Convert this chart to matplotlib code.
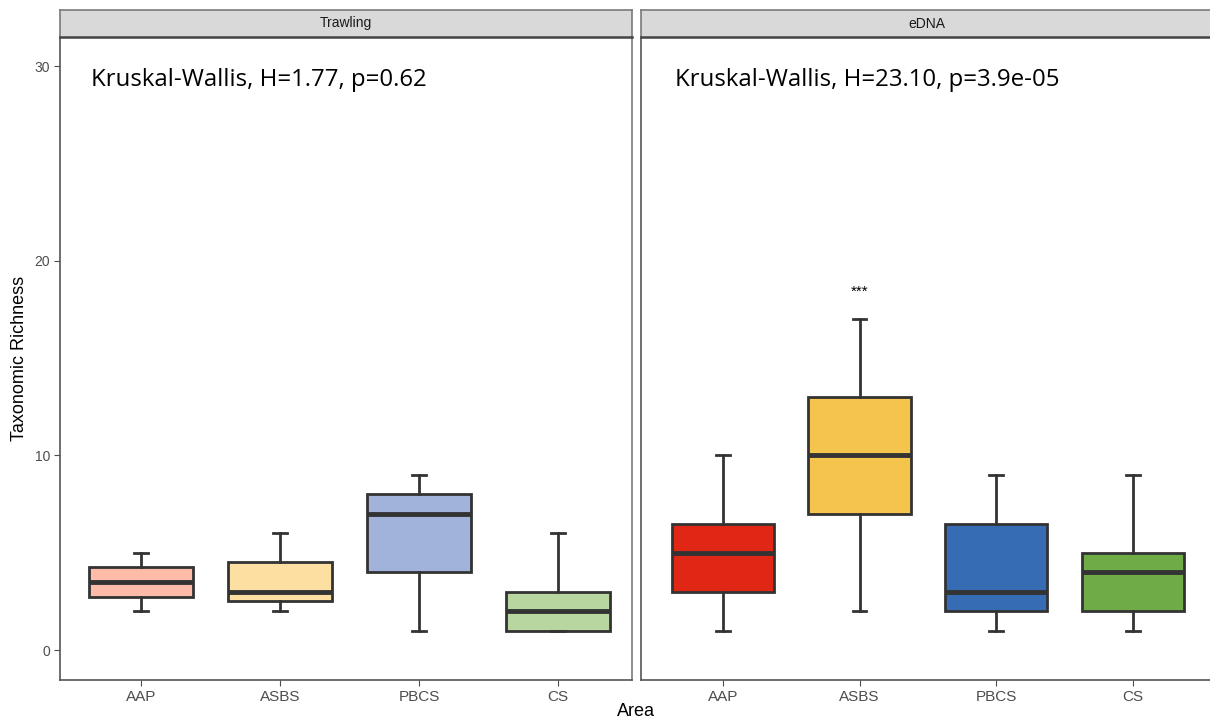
import matplotlib.pyplot as plt

plt.rcParams['font.family'] = ['Liberation Sans', 'DejaVu Sans']

# data (box stats per area)
areas = ["AAP", "ASBS", "PBCS", "CS"]
panels = ["Trawling", "eDNA"]

trawl_low = [2, 2, 1, 1]
trawl_q1 = [2.75, 2.5, 4, 1]
trawl_med = [3.5, 3, 7, 2]
trawl_q3 = [4.25, 4.5, 8, 3]
trawl_high = [5, 6, 9, 6]

edna_low = [1, 2, 1, 1]
edna_q1 = [3, 7, 2, 2]
edna_med = [5, 10, 3, 4]
edna_q3 = [6.5, 13, 6.5, 5]
edna_high = [10, 17, 9, 9]

trawl_colors = ["#FDBBA8", "#FEDFA2", "#A1B3DB", "#B8D6A0"]
edna_colors = ["#E02716", "#F4C44C", "#366CB3", "#6FAC47"]

kw_labels = ["Kruskal-Wallis, H=1.77, p=0.62", "Kruskal-Wallis, H=23.10, p=3.9e-05"]
signif_label = "***"
signif_area = "ASBS"
signif_y = 18.4


def make_stats(low, q1, med, q3, high):
    return [dict(whislo=a, q1=b, med=c, q3=d, whishi=e, fliers=[])
            for a, b, c, d, e in zip(low, q1, med, q3, high)]


fig = plt.figure(figsize=(12.1, 7.22), dpi=100)

W, H = 1210, 722
panel_px = [(60, 632), (641, 1212)]
xlims = [(0.42, 4.53), (0.4, 4.58)]
text_x = [0.055, 0.059]
stats_all = [make_stats(trawl_low, trawl_q1, trawl_med, trawl_q3, trawl_high),
             make_stats(edna_low, edna_q1, edna_med, edna_q3, edna_high)]
colors_all = [trawl_colors, edna_colors]
edge = "#333333"

for i, (x0, x1) in enumerate(panel_px):
    ax = fig.add_axes([x0 / W, 1 - 680 / H, (x1 - x0) / W, 643 / H])
    bp = ax.bxp(stats_all[i], positions=range(1, len(areas) + 1), widths=0.75,
                patch_artist=True, showfliers=False, capwidths=0.1,
                boxprops=dict(edgecolor=edge, linewidth=2.0),
                medianprops=dict(color=edge, linewidth=3.5, solid_capstyle="butt"),
                whiskerprops=dict(color=edge, linewidth=2.0),
                capprops=dict(color=edge, linewidth=2.0))
    for patch, c in zip(bp["boxes"], colors_all[i]):
        patch.set_facecolor(c)
        patch.set_zorder(2)

    ax.set_xlim(*xlims[i])
    ax.set_ylim(-1.54, 31.5)
    ax.set_xticks(range(1, len(areas) + 1))
    ax.set_xticklabels(areas, fontsize=11, color="#4d4d4d")
    ax.set_yticks([0, 10, 20, 30])
    if i == 0:
        ax.set_yticklabels(["0", "10", "20", "30"], fontsize=10, color="#4d4d4d")
    else:
        ax.tick_params(axis="y", left=False, labelleft=False)
    ax.tick_params(axis="both", length=4, width=0.8, color="#4d4d4d", pad=3)
    for s in ax.spines.values():
        s.set_color("#7a7a7a")
        s.set_linewidth(1.2)
    ax.spines["bottom"].set_color("#555555")
    ax.spines["left"].set_color("#555555")

    ax.text(text_x[i], 0.933, kw_labels[i], transform=ax.transAxes, fontsize=17.3,
            family=["Open Sans", "DejaVu Sans"], ha="left", va="center", color="black")
    if i == 1:
        ax.text(areas.index(signif_area) + 1, signif_y, signif_label, ha="center",
                va="center", fontsize=11, color="black")

    # facet strip
    sax = fig.add_axes([x0 / W, 1 - 37 / H, (x1 - x0) / W, 27 / H])
    sax.set_facecolor("#d9d9d9")
    sax.set_xticks([])
    sax.set_yticks([])
    for s in sax.spines.values():
        s.set_color("#7a7a7a")
        s.set_linewidth(1.2)
    sax.spines["bottom"].set_color("#444444")
    sax.spines["bottom"].set_linewidth(1.8)
    sax.text(0.5, 0.5, panels[i], ha="center", va="center", fontsize=10, color="#1a1a1a",
             transform=sax.transAxes)

fig.text(20 / W, 1 - 358 / H, "Taxonomic Richness", rotation=90, ha="center", va="center",
         fontsize=13, color="black")
fig.text(636 / W, 1 - 712 / H, "Area", ha="center", va="center", fontsize=13, color="black")

plt.savefig("out.png", dpi=100)
